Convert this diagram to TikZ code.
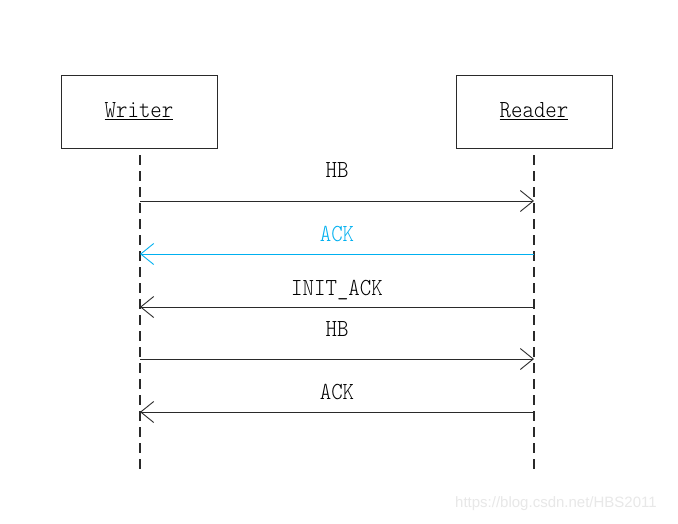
\documentclass[tikz,border=0pt]{standalone}
\usepackage{fontspec}
\usetikzlibrary{arrows.meta}
\newfontfamily\monof[FakeStretch=0.89]{lmmonolt10-regular.otf}
\newfontfamily\wmfont{Liberation Sans}
\definecolor{ackblue}{HTML}{00B0F0}
\definecolor{linegray}{HTML}{2A2A2A}
\begin{document}
\begin{tikzpicture}[x=1pt,y=-1pt,
  actor/.style={draw=linegray, line width=0.9pt, minimum width=156pt, minimum height=73pt, inner sep=0pt, font=\monof\fontsize{24.5}{27}\selectfont},
  lifeline/.style={draw=linegray, line width=1.3pt, dash pattern=on 10pt off 6pt},
  msg/.style={draw=linegray, line width=0.9pt, -{Straight Barb[length=13pt,width=21pt,line width=0.9pt]}},
  lbl/.style={font=\monof\fontsize{24.5}{27}\selectfont, anchor=base, inner sep=0pt, text=black}
]
\useasboundingbox (0,0) rectangle (678,523);
\fill[white] (0,0) rectangle (678,523);

\node[actor] (writer) at (139,111.5) {\underline{Writer}};
\node[actor] (reader) at (534,111.5) {\underline{Reader}};

\coordinate (wt) at (140,155);
\coordinate (wb) at (140,470);
\coordinate (rt) at (534,155);
\coordinate (rb) at (534,470);
\draw[lifeline] (wt) -- (wb);
\draw[lifeline] (rt) -- (rb);

\coordinate (w1) at (140,201); \coordinate (r1) at (534,201);
\coordinate (w2) at (140,254); \coordinate (r2) at (534,254);
\coordinate (w3) at (140,307); \coordinate (r3) at (534,307);
\coordinate (w4) at (140,359); \coordinate (r4) at (534,359);
\coordinate (w5) at (140,412); \coordinate (r5) at (534,412);

\draw[msg] (w1) -- node[lbl, yshift=24pt] (l1) {HB} (r1);
\draw[msg, draw=ackblue, -{Straight Barb[length=13pt,width=21pt,line width=0.9pt,color=ackblue]}] (r2) -- node[lbl, yshift=13pt, text=ackblue] (l2) {ACK} (w2);
\draw[msg] (r3) -- node[lbl, yshift=12pt] (l3) {INIT\_ACK} (w3);
\draw[msg] (w4) -- node[lbl, yshift=23pt] (l4) {HB} (r4);
\draw[msg] (r5) -- node[lbl, yshift=13pt] (l5) {ACK} (w5);

\node[font=\wmfont\fontsize{15}{18}\selectfont, text=black!9, anchor=base west, inner sep=0pt] (wm) at (455,507) {https://blog.csdn.net/HBS2011};
\end{tikzpicture}
\end{document}
